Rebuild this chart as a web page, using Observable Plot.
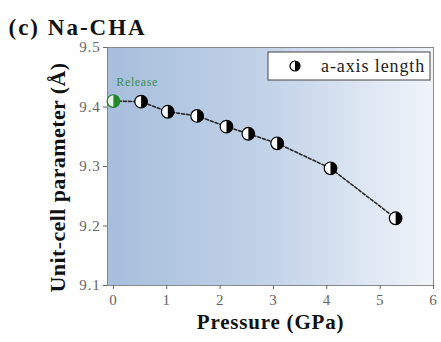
<!DOCTYPE html>
<html><head><meta charset="utf-8">
<script src="https://cdn.jsdelivr.net/npm/d3@7"></script>
<script src="https://cdn.jsdelivr.net/npm/@observablehq/plot@0.6"></script>
<style>body{margin:0;background:#fff}</style>
</head><body><div id="chart"></div>
<script>
// Data
const pressure = [0.52, 1.02, 1.57, 2.12, 2.53, 3.07, 4.07, 5.29];
const aAxis    = [9.409, 9.392, 9.385, 9.367, 9.355, 9.339, 9.297, 9.213];
const releasePressure = [0.0];
const releaseA = [9.410];
const xTicks = [0, 1, 2, 3, 4, 5, 6];
const yTicks = [9.1, 9.2, 9.3, 9.4, 9.5];
const title = "(c) Na-CHA";
const xLabel = "Pressure (GPa)";
const yLabel = "Unit-cell parameter (Å)";
const seriesName = "a-axis length";
const releaseLabel = "Release";

const points = pressure.map((p, i) => ({p, a: aAxis[i]}));
const release = releasePressure.map((p, i) => ({p, a: releaseA[i]}));
const linePts = [...release, ...points];

const rightHalf = {draw(ctx, size) {
  const r = Math.sqrt(size / Math.PI);
  ctx.moveTo(0, -r);
  ctx.arc(0, 0, r, -Math.PI / 2, Math.PI / 2);
  ctx.closePath();
}};

const serif = "Liberation Serif, Times New Roman, serif";
const NS = "http://www.w3.org/2000/svg";
function el(tag, attrs) {
  const e = document.createElementNS(NS, tag);
  for (const k in attrs) e.setAttribute(k, attrs[k]);
  return e;
}

const background = (index, scales, values, dim) => {
  const g = el("g", {});
  const defs = el("defs", {});
  const grad = el("linearGradient", {id: "bgGrad", x1: "0", x2: "1", y1: "0", y2: "0"});
  grad.appendChild(el("stop", {offset: "0", "stop-color": "#a6bedc"}));
  grad.appendChild(el("stop", {offset: "0.5", "stop-color": "#c3d3e8"}));
  grad.appendChild(el("stop", {offset: "1", "stop-color": "#f0f4fa"}));
  defs.appendChild(grad);
  g.appendChild(defs);
  g.appendChild(el("rect", {
    x: dim.marginLeft, y: dim.marginTop,
    width: dim.width - dim.marginLeft - dim.marginRight,
    height: dim.height - dim.marginTop - dim.marginBottom,
    fill: "url(#bgGrad)"
  }));
  return g;
};

const legend = (index, scales, values, dim) => {
  const g = el("g", {});
  const right = dim.width - dim.marginRight;
  const x0 = right - 165, y0 = dim.marginTop + 5, w = 162, h = 28;
  g.appendChild(el("rect", {x: x0, y: y0, width: w, height: h, fill: "#fff", stroke: "#444", "stroke-width": 1}));
  const cx = x0 + 27, cy = y0 + h / 2, r = 5;
  g.appendChild(el("circle", {cx, cy, r, fill: "#fff", stroke: "#000", "stroke-width": 1.2}));
  g.appendChild(el("path", {d: `M${cx},${cy - r}A${r},${r} 0 0 1 ${cx},${cy + r}Z`, fill: "#000"}));
  const t = el("text", {x: x0 + 53, y: cy, "font-family": serif, "font-size": 18, fill: "#222",
    "text-anchor": "start", "dominant-baseline": "central", "letter-spacing": 0.9});
  t.textContent = seriesName;
  g.appendChild(t);
  return g;
};

const chart = Plot.plot({
  width: 441,
  height: 342,
  marginLeft: 107,
  marginRight: 8,
  marginTop: 47,
  marginBottom: 57,
  style: {fontFamily: serif, background: "#fff"},
  x: {domain: [-0.11, 6]},
  y: {domain: [9.1, 9.5]},
  marks: [
    background,
    Plot.frame({stroke: "#888", strokeWidth: 1}),
    Plot.axisX({ticks: xTicks, tickSize: 4, tickPadding: 5, fontSize: 15, color: "#666", label: null, tickFormat: d3.format("d")}),
    Plot.axisY({ticks: yTicks, tickSize: 4, tickPadding: 3, fontSize: 15, color: "#666", label: null, tickFormat: d3.format(".1f")}),
    Plot.line(linePts, {x: "p", y: "a", stroke: "#2b2b2b", strokeWidth: 1.6, strokeDasharray: "3,2"}),
    Plot.dot(points, {x: "p", y: "a", r: 6.3, fill: "#fff", stroke: "#000", strokeWidth: 1.2}),
    Plot.dot(points, {x: "p", y: "a", r: 6.3, fill: "#000", symbol: rightHalf}),
    Plot.dot(release, {x: "p", y: "a", r: 6.3, fill: "#e8f4e8", stroke: "#1f7a2a", strokeWidth: 1.2}),
    Plot.dot(release, {x: "p", y: "a", r: 6.3, fill: "#1f8a2a", symbol: rightHalf}),
    Plot.text(release, {x: "p", y: "a", text: () => releaseLabel, dx: 3, dy: -19, textAnchor: "start", fontSize: 12, fill: "#3b8a55"}),
    legend,
    Plot.text([title], {frameAnchor: "top-left", dx: -99, dy: -20, textAnchor: "start", lineAnchor: "middle", fontSize: 23, fontWeight: "bold", fill: "#111"}),
    Plot.text([xLabel], {frameAnchor: "bottom", dy: 37, lineAnchor: "middle", fontSize: 21, fontWeight: "bold", fill: "#111"}),
    Plot.text([yLabel], {frameAnchor: "left", dx: -50, dy: 11, textAnchor: "middle", lineAnchor: "middle", rotate: -90, fontSize: 22, fontWeight: "bold", fill: "#111"})
  ]
});
// widen glyph spacing to match the reference's stretched lettering
const spacing = new Map([[title, 2], [xLabel, 0.8], [yLabel, 0.4], [releaseLabel, 0.6]]);
d3.select(chart).selectAll("text").each(function() {
  const s = spacing.get(this.textContent);
  if (s != null) this.setAttribute("letter-spacing", s);
});
d3.select(chart).selectAll("g[aria-label='x-axis tick label'] text, g[aria-label='y-axis tick label'] text")
  .attr("letter-spacing", 0.8);
document.getElementById("chart").appendChild(chart);
</script>
</body></html>
